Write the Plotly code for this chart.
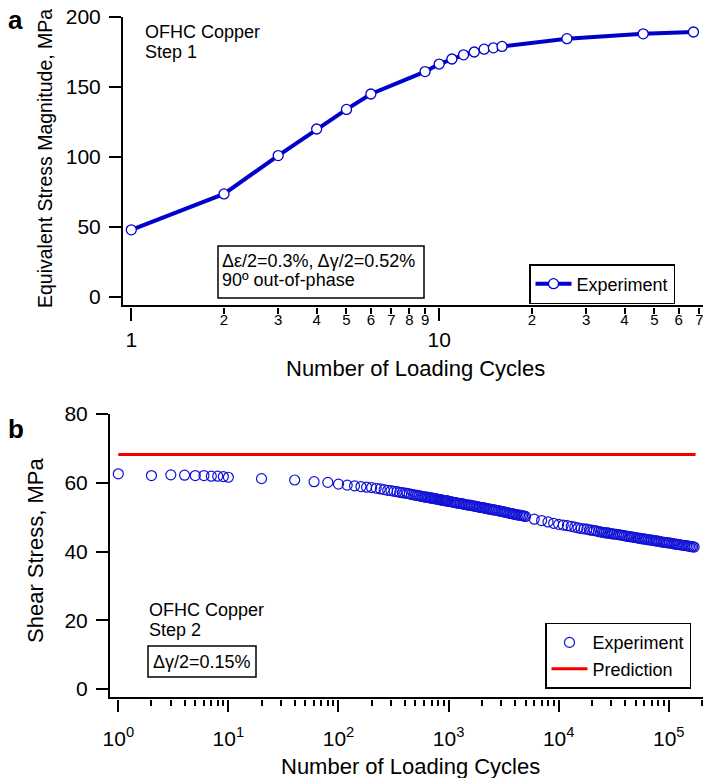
import plotly.graph_objects as go

# ---------------- data ----------------
# Panel a: Step 1 cyclic hardening
top_cycles = [1, 2, 3, 4, 5, 6, 9, 10, 11, 12, 13, 14, 15, 16, 26, 46, 67]
top_stress = [48, 73.6, 101, 120, 134, 145, 161, 166.4, 170, 173, 175, 177, 178, 179, 184.5, 188, 189.3]

# Panel b: Step 2 experiment
segA_cycles = [1, 2, 3, 4, 5, 6, 7, 8, 9, 10, 20, 40, 60, 80]
segA_stress = [62.6, 62.1, 62.3, 62.2, 62.1, 62.1, 61.9, 61.9, 61.8, 61.6, 61.2, 60.8, 60.3, 60.1]

segB_cycles = [100, 120, 140, 160, 180, 200, 220, 240, 260, 280, 300, 320, 340, 360, 380, 400,
               420, 440, 460, 480, 500, 520, 540, 560, 580, 600, 620, 640, 660, 680, 700, 720,
               740, 760, 780, 800, 820, 840, 860, 880, 900, 920, 940, 960, 980, 1000,
               1040, 1080, 1120, 1160, 1200, 1240, 1280, 1320, 1360, 1400,
               1450, 1500, 1550, 1600, 1660, 1720, 1780, 1840, 1900, 1960,
               2020, 2080, 2150, 2220, 2300, 2380, 2460, 2540, 2620, 2700,
               2800, 2900, 3000, 3100, 3200, 3300, 3400, 3520, 3640, 3760,
               3880, 4000, 4140, 4280, 4420, 4560, 4700, 4850, 5000]
segB_stress = [59.6, 59.3, 59.1, 58.9, 58.7, 58.6, 58.4, 58.2, 58.0, 57.8, 57.7, 57.5, 57.4, 57.2, 57.1, 57.0,
               56.9, 56.8, 56.6, 56.5, 56.4, 56.3, 56.2, 56.1, 56.0, 55.9, 55.8, 55.8, 55.7, 55.6, 55.5, 55.5,
               55.4, 55.3, 55.3, 55.2, 55.1, 55.1, 55.0, 54.9, 54.9, 54.8, 54.8, 54.7, 54.7, 54.6,
               54.5, 54.4, 54.3, 54.2, 54.1, 54.0, 54.0, 53.9, 53.8, 53.7,
               53.6, 53.5, 53.5, 53.4, 53.3, 53.2, 53.1, 53.0, 52.9, 52.8,
               52.8, 52.7, 52.6, 52.5, 52.4, 52.3, 52.2, 52.1, 52.1, 52.0,
               51.9, 51.8, 51.7, 51.6, 51.5, 51.4, 51.3, 51.2, 51.1, 51.0,
               50.9, 50.8, 50.7, 50.6, 50.6, 50.5, 50.4, 50.3, 50.2]

segC_cycles = [6000, 7000, 8000, 9000, 10000, 11000, 12000, 13000, 14000, 15000, 16000, 17000, 18000, 19000, 20000,
               21000, 22000, 23000, 24000, 25000, 26000, 27000, 28000, 29000, 30000, 31000, 32000,
               33500, 35000, 36500, 38000, 39500, 41000, 42500, 44000, 45500, 47000,
               49000, 51000, 53000, 55000, 57000, 59000, 61000, 63000, 65000,
               67500, 70000, 72500, 75000, 77500, 80000,
               83000, 86000, 89000, 92000, 95000, 98000, 101000,
               105000, 109000, 113000, 117000, 121000, 125000,
               130000, 135000, 140000, 145000, 150000, 155000, 160000, 165000, 170000]
segC_stress = [49.4, 49.0, 48.6, 48.2, 47.9, 47.7, 47.5, 47.3, 47.1, 46.9, 46.7, 46.6, 46.5, 46.3, 46.2,
               46.1, 46.0, 45.8, 45.7, 45.6, 45.5, 45.4, 45.4, 45.3, 45.2, 45.1, 45.1,
               45.0, 44.9, 44.8, 44.7, 44.6, 44.5, 44.4, 44.3, 44.3, 44.2,
               44.1, 44.0, 43.9, 43.8, 43.7, 43.7, 43.6, 43.5, 43.4,
               43.4, 43.3, 43.2, 43.1, 43.1, 43.0,
               42.9, 42.8, 42.7, 42.7, 42.6, 42.5, 42.5,
               42.4, 42.3, 42.2, 42.1, 42.1, 42.0,
               41.9, 41.8, 41.7, 41.7, 41.6, 41.5, 41.4, 41.4, 41.3]

pred_cycles = [1, 175000]
pred_stress = [68.2, 68.2]

top_yticks = [0, 50, 100, 150, 200]
bot_yticks = [0, 20, 40, 60, 80]
top_major = [1, 10]
top_major_text = ["1", "10"]
top_minor = [2, 3, 4, 5, 6, 7, 8, 9, 20, 30, 40, 50, 60, 70]
top_minor_text = ["2", "3", "4", "5", "6", "7", "8", "9", "2", "3", "4", "5", "6", "7"]
bot_major = [1, 10, 100, 1000, 10000, 100000]
bot_major_text = ["10<sup>0</sup>", "10<sup>1</sup>", "10<sup>2</sup>",
                  "10<sup>3</sup>", "10<sup>4</sup>", "10<sup>5</sup>"]

# ---------------- style ----------------
W, H = 703, 778
FONT = "Liberation Sans, Arial, sans-serif"
NARROW = "Liberation Sans Narrow, Arial Narrow, Liberation Sans, sans-serif"
BLUE = "#0000CC"
BLUE2 = "#1212D6"
RED = "rgb(245,0,0)"


def px(x):
    return x / W


def py(y):
    return 1 - y / H


bot_cycles = segA_cycles + segB_cycles + segC_cycles
bot_stress = segA_stress + segB_stress + segC_stress

fig = go.Figure()
fig.add_trace(go.Scatter(
    x=top_cycles, y=top_stress, mode="lines+markers", name="Experiment",
    line=dict(color=BLUE, width=4),
    marker=dict(symbol="circle", size=10, color="white", line=dict(color=BLUE, width=1.3)),
    xaxis="x", yaxis="y", legend="legend"))
fig.add_trace(go.Scatter(
    x=bot_cycles, y=bot_stress, mode="markers", name="Experiment",
    marker=dict(symbol="circle-open", size=10, color=BLUE2, line=dict(width=1.2)),
    xaxis="x2", yaxis="y2", legend="legend2"))
fig.add_trace(go.Scatter(
    x=pred_cycles, y=pred_stress, mode="lines", name="Prediction",
    line=dict(color=RED, width=3),
    xaxis="x2", yaxis="y2", legend="legend2"))
# empty carriers so the overlay tick axes get drawn
for xa, ya in (("x3", "y"), ("x4", "y"), ("x5", "y2")):
    fig.add_trace(go.Scatter(x=[], y=[], xaxis=xa, yaxis=ya, showlegend=False,
                             hoverinfo="skip", mode="markers"))

top_xrange = [-0.027, 1.857]
bot_xrange = [-0.0754, 5.311]
top_xdom = [px(123), 1]
bot_xdom = [px(110), 1]

base_ax = dict(showgrid=False, zeroline=False, color="black", automargin=False,
               tickfont=dict(family=FONT, size=21, color="black"))

minor_bot = [k * 10 ** d for d in range(0, 6) for k in range(2, 10) if k * 10 ** d <= 2e5]

fig.update_layout(
    width=W, height=H,
    margin=dict(l=0, r=0, t=0, b=0, autoexpand=False),
    paper_bgcolor="white", plot_bgcolor="white",
    font=dict(family=FONT, color="black"),
    xaxis=dict(base_ax, domain=top_xdom, type="log", range=top_xrange, anchor="y",
               showline=True, linewidth=2, linecolor="black", ticks="", showticklabels=False),
    xaxis3=dict(base_ax, domain=top_xdom, type="log", range=top_xrange, overlaying="x",
                anchor="free", position=py(306.5), side="bottom", showline=False,
                tickmode="array", tickvals=top_major, ticktext=top_major_text,
                ticks="outside", ticklen=13, tickwidth=2, tickcolor="black",
                ticklabelstandoff=1),
    xaxis4=dict(base_ax, domain=top_xdom, type="log", range=top_xrange, overlaying="x",
                anchor="free", position=py(306.5), side="bottom", showline=False,
                tickmode="array", tickvals=top_minor, ticktext=top_minor_text,
                ticks="outside", ticklen=6, tickwidth=1.5, tickcolor="black",
                tickfont=dict(family=NARROW, size=15, color="black"),
                ticklabeloverflow="allow", ticklabelstandoff=-7),
    yaxis=dict(base_ax, domain=[py(305), py(17)], range=[-5.7, 200], anchor="x",
               showline=True, linewidth=2, linecolor="black",
               tickmode="array", tickvals=top_yticks, ticks="outside", ticklen=12,
               tickwidth=1.5, tickcolor="black", ticklabelstandoff=4),
    xaxis2=dict(base_ax, domain=bot_xdom, type="log", range=bot_xrange, anchor="y2",
                showline=True, linewidth=2, linecolor="black", ticks="", showticklabels=False),
    xaxis5=dict(base_ax, domain=bot_xdom, type="log", range=bot_xrange, overlaying="x2",
                anchor="free", position=py(698.5), side="bottom", showline=False,
                tickmode="array", tickvals=bot_major, ticktext=bot_major_text,
                ticks="outside", ticklen=12, tickwidth=1.5, tickcolor="black",
                minor=dict(tickmode="array", tickvals=minor_bot, ticks="outside",
                           ticklen=6, tickwidth=1.5, tickcolor="black", showgrid=False),
                ticklabelstandoff=9),
    yaxis2=dict(base_ax, domain=[py(697.3), py(414)], range=[-2.41, 80], anchor="x2",
                showline=True, linewidth=2, linecolor="black",
                tickmode="array", tickvals=bot_yticks, ticks="outside", ticklen=12,
                tickwidth=1.5, tickcolor="black", ticklabelstandoff=4),
    legend=dict(x=px(529), y=py(264), xanchor="left", yanchor="top",
                bordercolor="black", borderwidth=1.5, bgcolor="white", itemwidth=36,
                font=dict(family=FONT, size=18, color="black"), tracegroupgap=0),
    legend2=dict(x=px(545), y=py(622.7), xanchor="left", yanchor="top",
                 bordercolor="black", borderwidth=1.5, bgcolor="white", itemwidth=36,
                 font=dict(family=FONT, size=18, color="black"), tracegroupgap=0),
    showlegend=True,
)

ann = []


def add_text(text, x, y, size, xanchor="left", bold=False, angle=0):
    t = "<b>%s</b>" % text if bold else text
    ann.append(dict(text=t, x=px(x), y=py(y), xref="paper", yref="paper",
                    xanchor=xanchor, yanchor="middle", showarrow=False, textangle=angle,
                    font=dict(family=FONT, size=size, color="black")))


add_text("a", 6, 20, 26, bold=True)
add_text("b", 6, 429, 26, bold=True)
add_text("Equivalent Stress Magnitude, MPa", 45, 159, 19.5, xanchor="center", angle=-90)
add_text("Shear Stress, MPa", 35, 551, 22, xanchor="center", angle=-90)
add_text("Number of Loading Cycles", 415, 368, 22, xanchor="center")
add_text("Number of Loading Cycles", 410, 766, 22, xanchor="center")
add_text("OFHC Copper", 143, 32, 18)
add_text("Step 1", 143, 52, 18)
add_text("\u0394\u03b5/2=0.3%, \u0394\u03b3/2=0.52%", 220, 261, 18)
add_text("90\u00ba out-of-phase", 220, 280, 18)
add_text("OFHC Copper", 147, 610, 18)
add_text("Step 2", 147, 630, 18)
add_text("\u0394\u03b3/2=0.15%", 151, 662, 18)
fig.update_layout(annotations=ann)

shapes = [
    dict(type="rect", xref="paper", yref="paper", x0=px(218), x1=px(424), y0=py(298), y1=py(246),
         line=dict(color="black", width=1.5)),
    dict(type="rect", xref="paper", yref="paper", x0=px(148), x1=px(256), y0=py(677), y1=py(646),
         line=dict(color="black", width=1.5)),
]
fig.update_layout(shapes=shapes)

fig.write_html("out.html")
